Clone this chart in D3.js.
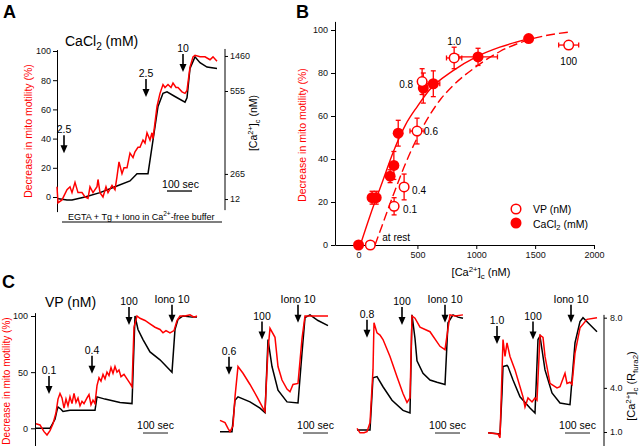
<!DOCTYPE html>
<html><head><meta charset="utf-8">
<script src="https://cdn.jsdelivr.net/npm/d3@7/dist/d3.min.js"></script>
<style>html,body{margin:0;padding:0;background:#fff;}svg{display:block;}</style>
</head><body>
<svg id="fig" width="640" height="446"></svg>
<script>
// ===== DATA =====
// Panel A : CaCl2 additions, time (s) vs decrease in mito motility (%)
const aRedTrace = [[0,7],[4,-4],[20,-2],[40,5],[52,7],[60,3],[72,10],[84,3],[100,3],[112,0],[124,-1],[132,7],[144,3],[160,7],[164,12],[172,3],[184,0],[196,7],[204,3],[220,8],[232,5],[240,14],[248,24],[260,16],[268,20],[280,20],[292,30],[304,27],[312,31],[324,34],[332,34],[344,39],[352,37],[360,44],[372,39],[380,44],[384,40],[392,51],[400,62],[412,71],[424,77],[432,75],[444,77],[456,75],[464,78],[476,75],[484,75],[500,72],[512,71],[520,73],[532,89],[544,96],[552,97],[572,96],[592,96],[612,94],[624,96],[640,93]];
const aBlackTrace = [[0,-1],[40,-2],[60,-2],[112,0],[172,3],[232,7],[292,11],[320,16],[364,16],[384,39],[404,62],[424,71],[440,72],[470,69],[512,65],[520,68],[532,88],[552,96],[572,92],[600,89],[640,88]];
const aArrowTimes = [28,356,504];
const aArrowLabels = ["2.5","2.5","10"];
const aArrowLevels = [30,68.5,85.6];
const aLeftTicks = [0,20,40,60,80,100];
const aCaTicks = [12,265,555,1460];
const aCaTickLevels = [-1.4,15.8,72.6,96.6];
const aBarStart = 440;

// Panel B : [Ca2+]c (nM) vs decrease in mito motility (%)
const bCaX = [0,115,150,268,300,337,550,635,1015,1445];
const bCaY = [0,22,22,32,37,52,73,75,87.5,96];
const bCaXErr = [0,0,0,0,0,0,30,55,165,0];
const bCaYErr = [0,3,3,3,6.5,6,7,6,4,0];
const bVpX = [100,302,387,497,540,812,1785];
const bVpY = [0,18,27,53,76,87,93];
const bVpXErr = [0,0,0,60,0,65,85];
const bVpYErr = [0,4,6,6,6,5,2];
const bVpLabels = ["at rest","0.1","0.4","0.6","0.8","1.0","100"];
const bFitSolid = [[15,0],[100,14],[200,29],[300,44],[400,56],[500,64.5],[600,72],[800,81],[1000,87.5],[1200,92],[1450,96]];
const bFitDashed = [[140,0],[200,9],[300,24],[400,38],[500,50],[600,60],[700,68],[800,74],[1000,83],[1200,90],[1450,95.5],[1780,99]];
const bXTicks = [0,500,1000,1500,2000];
const bYTicks = [0,20,40,60,80,100];

// Panel C : VP additions, four recordings
const c1Black = [[0,0],[56,0],[76,8],[84,16],[88,19],[100,17],[108,15],[136,16],[176,16],[236,16],[244,28],[276,26],[336,23],[384,22],[396,100],[408,88],[428,79],[456,68],[496,61],[544,50],[556,88],[568,97],[588,100],[624,99],[644,99]];
const c1Red = [[0,4],[16,3],[32,-3],[44,-6],[56,-2],[68,4],[80,14],[88,26],[96,31],[104,27],[112,18],[120,26],[128,20],[136,28],[144,22],[152,31],[160,23],[168,27],[176,20],[184,24],[192,22],[204,27],[212,30],[220,21],[228,25],[236,22],[244,38],[252,45],[260,42],[268,48],[276,44],[284,50],[292,47],[300,54],[308,49],[316,55],[324,50],[332,52],[340,46],[352,48],[364,44],[376,40],[384,37],[392,90],[404,100],[416,98],[436,96],[456,93],[476,90],[496,88],[508,85],[520,87],[536,85],[552,87],[564,96],[576,100],[596,100],[616,101],[632,99],[644,100]];
const c2Black = [[8,-3],[56,-3],[68,25],[80,28],[128,23.5],[168,18],[188,14],[200,79],[216,55],[240,34],[276,23.5],[320,22.5],[336,67],[348,98.5],[368,101],[400,96],[440,91.5]];
const c2Red = [[8,7],[28,5],[40,0],[48,-3],[60,2],[68,28],[80,55],[100,49],[128,39],[156,28],[180,18],[188,15],[200,70],[208,89],[228,81],[240,55],[256,43],[276,35],[288,32.6],[300,39],[320,40],[336,80],[348,100],[388,100],[440,100]];
const c3Black = [[8,-1.5],[60,-1.5],[72,45],[88,46],[112,37],[148,25],[192,16],[220,13.7],[228,101],[240,80],[248,60],[272,49],[300,43],[328,41],[360,39],[372,94],[392,101],[412,99],[432,98]];
const c3Red = [[8,0],[20,-4],[36,-4],[48,-3],[60,5],[72,52],[76,94],[88,85],[100,83],[112,79],[140,64],[168,46],[192,31],[208,23],[220,27],[228,100],[240,98],[260,90],[300,86],[340,73],[360,70],[380,101],[400,100],[432,101]];
const c4Black = [[8,-4],[56,-5],[64,31],[68,55],[84,56],[88,55],[108,43],[136,28],[176,18],[196,13.6],[208,79],[216,82],[236,52],[264,31.5],[296,22.5],[336,21],[356,76],[376,95],[388,98.5],[408,94],[444,86]];
const c4Red = [[8,-4],[48,-5],[56,-8.5],[68,79],[76,64],[84,76],[96,64],[116,52],[136,37],[148,28],[156,19],[168,27],[184,23.5],[196,27],[204,25],[216,83],[228,81],[236,64],[256,40],[284,36],[296,37],[316,49],[324,40],[336,41],[344,39],[356,67],[376,89.5],[404,97],[444,98.5]];
const c1ArrowTimes = [52,224,372,544], c1ArrowLabels = ["0.1","0.4","100","Iono 10"], c1ArrowLevels = [30.6,48.5,92,94];
const c2ArrowTimes = [44,176,320], c2ArrowLabels = ["0.6","100","Iono 10"], c2ArrowLevels = [47.6,79,94];
const c3ArrowTimes = [48,188,360], c3ArrowLabels = ["0.8","100","Iono 10"], c3ArrowLevels = [80.6,92,94];
const c4ArrowTimes = [44,188,340], c4ArrowLabels = ["1.0","100","Iono 10"], c4ArrowLevels = [75,79,94];
const cBarStarts = [428,340,320,316];
const cLeftTicks = [0,50,100];
const cRatioTicks = [1,4,8];
const cRatioTickLevels = [-3.3,36,98.5];

// ===== DRAWING =====
const FONT = "'Liberation Sans', Arial, Helvetica, sans-serif";
const RED = "#ff0000";
const svg = d3.select("#fig").attr("font-family", FONT);
svg.append("rect").attr("width",640).attr("height",446).attr("fill","#fff");

function rich(sel, parts, fs){
  const shifts = {n:0, sup:-0.38*fs, sub:0.28*fs};
  let cur = 0;
  parts.forEach(p=>{
    const [s,type] = Array.isArray(p) ? p : [p,'n'];
    const ts = sel.append("tspan").text(s);
    const target = shifts[type];
    if(target !== cur){ ts.attr("dy", target-cur); cur = target; }
    if(type !== 'n') ts.attr("font-size", fs*0.72);
  });
  return sel;
}
function text(x,y,parts,fs,opt={}){
  const t = svg.append("text").attr("x",x).attr("y",y).attr("font-size",fs)
    .attr("fill",opt.fill||"#000").attr("text-anchor",opt.anchor||"start");
  if(opt.weight) t.attr("font-weight",opt.weight);
  return rich(t, typeof parts==="string"?[parts]:parts, fs);
}
function vtext(x,y,parts,fs,fill){
  const t = svg.append("text").attr("transform",`translate(${x},${y}) rotate(-90)`)
    .attr("font-size",fs).attr("fill",fill||"#000").attr("text-anchor","middle");
  return rich(t, parts, fs);
}
function styleAxis(g){
  g.attr("font-family",FONT).attr("font-size",9);
  g.selectAll("path,line").attr("stroke","#000").attr("stroke-width",1);
  g.selectAll("text").attr("fill","#111");
}
function arrow(x, tipY, label){
  svg.append("line").attr("x1",x).attr("x2",x).attr("y1",tipY-18).attr("y2",tipY-6)
    .attr("stroke","#000").attr("stroke-width",1.6);
  svg.append("path").attr("d",`M${x-3.5},${tipY-8}L${x+3.5},${tipY-8}L${x},${tipY}Z`).attr("fill","#000");
  text(x, tipY-20, label, 10.5, {anchor:"middle"});
}
const lineGen = (x,y)=>d3.line().x(d=>x(d[0])).y(d=>y(d[1]));

// Panel labels
text(3,18,"A",18,{weight:"bold"});
text(296,18,"B",18,{weight:"bold"});
text(2,288,"C",18,{weight:"bold"});

// ---------- Panel A ----------
const xA = d3.scaleLinear().domain([0,650]).range([57,219.5]);
const yA = d3.scaleLinear().domain([0,100]).range([197,51]);
const yAaxis = d3.scaleLinear().domain([-10,101]).range([yA(-10),yA(101)]);
svg.append("g").attr("transform","translate(57,0)")
  .call(d3.axisLeft(yAaxis).tickValues(aLeftTicks).tickSize(4).tickSizeOuter(0).tickPadding(2)).call(styleAxis);
const yAr = d3.scaleLinear().domain(aCaTicks).range(aCaTickLevels.map(yA));
const gAr = svg.append("g").attr("transform","translate(225,0)")
  .call(d3.axisRight(yAr).tickValues(aCaTicks).tickFormat(d3.format("d")).tickSize(3).tickSizeOuter(0).tickPadding(2)).call(styleAxis);
gAr.select(".domain").remove();
gAr.append("line").attr("x1",0).attr("x2",0).attr("y1",yA(101.4)).attr("y2",yA(-9)).attr("stroke","#000");
vtext(32,131,["Decrease in mito motility (%)"],10.5,RED);
vtext(257,123,["[Ca",["2+","sup"],"]",["c","sub"]," (nM)"],10.5,"#000");
text(65,46,["CaCl",["2","sub"]," (mM)"],14);
svg.append("path").datum(aBlackTrace).attr("d",lineGen(xA,yA)).attr("fill","none").attr("stroke","#000").attr("stroke-width",1.5);
svg.append("path").datum(aRedTrace).attr("d",lineGen(xA,yA)).attr("fill","none").attr("stroke",RED).attr("stroke-width",1.5);
aArrowTimes.forEach((t,i)=>arrow(xA(t), yA(aArrowLevels[i]), aArrowLabels[i]));
svg.append("line").attr("x1",xA(aBarStart)).attr("x2",xA(aBarStart+100)).attr("y1",yA(4.1)).attr("y2",yA(4.1)).attr("stroke","#000").attr("stroke-width",1.3);
text((xA(aBarStart)+xA(aBarStart+100))/2+1, yA(4.1)-3, "100 sec", 10.5, {anchor:"middle"});
svg.append("line").attr("x1",62).attr("x2",222).attr("y1",222).attr("y2",222).attr("stroke","#000").attr("stroke-width",1.2);
text(68,219.5,["EGTA + Tg + Iono in Ca",["2+","sup"],"-free buffer"],9);

// ---------- Panel B ----------
const xB = d3.scaleLinear().domain([-200,2000]).range([335,594]);
const yB = d3.scaleLinear().domain([0,100]).range([245,30]);
const yBaxis = d3.scaleLinear().domain([0,104]).range([yB(0),yB(104)]);
svg.append("g").attr("transform","translate(335,0)")
  .call(d3.axisLeft(yBaxis).tickValues(bYTicks).tickSize(4).tickSizeOuter(0).tickPadding(3)).call(styleAxis);
svg.append("g").attr("transform","translate(0,245)")
  .call(d3.axisBottom(xB).tickValues(bXTicks).tickFormat(d3.format("d")).tickSize(4).tickSizeOuter(0).tickPadding(3)).call(styleAxis);
vtext(306,135,["Decrease in mito motility (%)"],10.5,RED);
text(481,276,["[Ca",["2+","sup"],"]",["c","sub"]," (nM)"],11,{anchor:"middle"});

svg.append("path").datum(bFitSolid).attr("d",lineGen(xB,yB).curve(d3.curveMonotoneX)).attr("fill","none").attr("stroke",RED).attr("stroke-width",1.4);
svg.append("path").datum(bFitDashed).attr("d",lineGen(xB,yB).curve(d3.curveMonotoneX)).attr("fill","none").attr("stroke",RED).attr("stroke-width",1.4).attr("stroke-dasharray","9,4");

function errBars(xs,ys,xe,ye){
  const g = svg.append("g").attr("stroke",RED).attr("stroke-width",1.3);
  xs.forEach((xv,i)=>{
    const cx = xB(xv), cy = yB(ys[i]);
    if(ye[i]>0){
      const y1 = yB(ys[i]-ye[i]), y2 = yB(ys[i]+ye[i]);
      g.append("line").attr("x1",cx).attr("x2",cx).attr("y1",y1).attr("y2",y2);
      g.append("line").attr("x1",cx-2.5).attr("x2",cx+2.5).attr("y1",y1).attr("y2",y1);
      g.append("line").attr("x1",cx-2.5).attr("x2",cx+2.5).attr("y1",y2).attr("y2",y2);
    }
    if(xe[i]>0){
      const x1 = xB(xv-xe[i]), x2 = xB(xv+xe[i]);
      g.append("line").attr("x1",x1).attr("x2",x2).attr("y1",cy).attr("y2",cy);
      g.append("line").attr("x1",x1).attr("x2",x1).attr("y1",cy-2.5).attr("y2",cy+2.5);
      g.append("line").attr("x1",x2).attr("x2",x2).attr("y1",cy-2.5).attr("y2",cy+2.5);
    }
  });
}
errBars(bCaX,bCaY,bCaXErr,bCaYErr);
errBars(bVpX,bVpY,bVpXErr,bVpYErr);
svg.append("g").selectAll("circle").data(bCaX).join("circle")
  .attr("cx",d=>xB(d)).attr("cy",(d,i)=>yB(bCaY[i])).attr("r",5.5).attr("fill",RED);
svg.append("g").selectAll("circle").data(bVpX).join("circle")
  .attr("cx",d=>xB(d)).attr("cy",(d,i)=>yB(bVpY[i])).attr("r",4.8).attr("fill","#fff").attr("stroke",RED).attr("stroke-width",1.5);
const vpLabelPlace = [[12,-4,"start"],[9,7,"start"],[8,7,"start"],[7,4,"start"],[-9,6,"end"],[0,-13,"middle"],[0,20,"middle"]];
bVpLabels.forEach((lab,i)=>{
  const p = vpLabelPlace[i];
  text(xB(bVpX[i])+p[0], yB(bVpY[i])+p[1], lab, 10, {anchor:p[2]});
});
// legend
svg.append("circle").attr("cx",516).attr("cy",209).attr("r",4.8).attr("fill","#fff").attr("stroke",RED).attr("stroke-width",1.5);
svg.append("circle").attr("cx",516).attr("cy",223).attr("r",5.5).attr("fill",RED);
text(533,213,"VP (nM)",10.5);
text(533,227.5,["CaCl",["2","sub"]," (mM)"],10.5);

// ---------- Panel C ----------
const yC = d3.scaleLinear().domain([0,100]).range([428.3,316]);
const yCaxis = d3.scaleLinear().domain([-16,103]).range([yC(-16),yC(103)]);
svg.append("g").attr("transform","translate(35,0)")
  .call(d3.axisLeft(yCaxis).tickValues(cLeftTicks).tickSize(4).tickSizeOuter(0).tickPadding(3)).call(styleAxis);
const yCr = d3.scaleLinear().domain(cRatioTicks).range(cRatioTickLevels.map(yC));
const gCr = svg.append("g").attr("transform","translate(604,0)")
  .call(d3.axisRight(yCr).tickValues(cRatioTicks).tickFormat(d3.format(".1f")).tickSize(3).tickSizeOuter(0).tickPadding(3)).call(styleAxis);
gCr.select(".domain").remove();
gCr.append("line").attr("x1",0).attr("x2",0).attr("y1",yC(101)).attr("y2",yC(-16)).attr("stroke","#000");
vtext(10,381,["Decrease in mito motility (%)"],10,RED);
vtext(635,386,["[Ca",["2+","sup"],"]",["c","sub"]," (R",["fura2","sub"],")"],11,"#000");
text(45,307,"VP (nM)",14);

const cX0 = [36,218,355,486];
const cSubs = [
  {black:c1Black, red:c1Red, at:c1ArrowTimes, al:c1ArrowLabels, av:c1ArrowLevels},
  {black:c2Black, red:c2Red, at:c2ArrowTimes, al:c2ArrowLabels, av:c2ArrowLevels},
  {black:c3Black, red:c3Red, at:c3ArrowTimes, al:c3ArrowLabels, av:c3ArrowLevels},
  {black:c4Black, red:c4Red, at:c4ArrowTimes, al:c4ArrowLabels, av:c4ArrowLevels}
];
cSubs.forEach((s,i)=>{
  const x = d3.scaleLinear().domain([0,700]).range([cX0[i], cX0[i]+175]);
  svg.append("path").datum(s.black).attr("d",lineGen(x,yC)).attr("fill","none").attr("stroke","#000").attr("stroke-width",1.5);
  svg.append("path").datum(s.red).attr("d",lineGen(x,yC)).attr("fill","none").attr("stroke",RED).attr("stroke-width",1.5);
  s.at.forEach((t,j)=>arrow(x(t), yC(s.av[j]), s.al[j]));
  const b0 = cBarStarts[i];
  svg.append("line").attr("x1",x(b0)).attr("x2",x(b0+100)).attr("y1",yC(-4.2)).attr("y2",yC(-4.2)).attr("stroke","#666").attr("stroke-width",1.5);
  text((x(b0)+x(b0+100))/2, yC(-4.2)-4, "100 sec", 10.5, {anchor:"middle"});
});
</script></body></html>
